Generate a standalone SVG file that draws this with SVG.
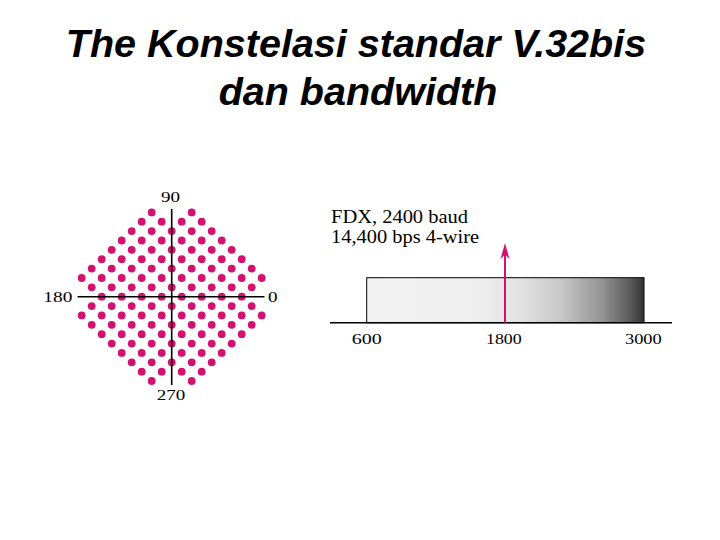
<svg xmlns="http://www.w3.org/2000/svg" width="720" height="540" viewBox="0 0 720 540">
<style>
.title{font-family:"Liberation Sans",Arial,sans-serif;font-weight:bold;font-style:italic;font-size:39.5px;fill:#000}
.lbl{font-family:"Liberation Serif","Times New Roman",serif;font-size:14.5px;fill:#000}
.big{font-family:"Liberation Serif","Times New Roman",serif;font-size:18.5px;fill:#000}
.d{fill:#d3126f}
.ax{stroke:#000;stroke-width:1.6;fill:none}
</style>
<defs>
<circle id="p" r="3.9" class="d"/>
<linearGradient id="bw" x1="0" y1="0" x2="1" y2="0">
<stop offset="0" stop-color="#f2f2f2"/>
<stop offset="0.4" stop-color="#eeeeee"/>
<stop offset="0.55" stop-color="#e2e2e2"/>
<stop offset="0.7" stop-color="#c8c8c8"/>
<stop offset="0.85" stop-color="#939393"/>
<stop offset="0.95" stop-color="#5a5a5a"/>
<stop offset="1" stop-color="#333333"/>
</linearGradient>
<marker id="ah" viewBox="0 0 16 10" refX="7" refY="5" markerWidth="16" markerHeight="10" markerUnits="userSpaceOnUse" orient="auto">
<path d="M16 5 L0 0.5 L4.5 5 L0 9.5 Z" fill="#d3126f"/>
</marker>
</defs>
<rect width="720" height="540" fill="#fff"/>
<g id="title">
<text class="title" x="356" y="57" text-anchor="middle">The Konstelasi standar V.32bis</text>
<text class="title" x="358" y="105" text-anchor="middle">dan bandwidth</text>
</g>
<g id="constellation">
<g id="dots" transform="translate(171.7 296.7)">
<use href="#p" x="-20" y="-84.3"/><use href="#p" x="20" y="-84.3"/>
<use href="#p" x="-30" y="-75"/><use href="#p" x="-10" y="-75"/><use href="#p" x="10" y="-75"/><use href="#p" x="30" y="-75"/>
<use href="#p" x="-40" y="-65.6"/><use href="#p" x="-20" y="-65.6"/><use href="#p" x="0" y="-65.6"/><use href="#p" x="20" y="-65.6"/><use href="#p" x="40" y="-65.6"/>
<use href="#p" x="-50" y="-56.2"/><use href="#p" x="-30" y="-56.2"/><use href="#p" x="-10" y="-56.2"/><use href="#p" x="10" y="-56.2"/><use href="#p" x="30" y="-56.2"/><use href="#p" x="50" y="-56.2"/>
<use href="#p" x="-60" y="-46.9"/><use href="#p" x="-40" y="-46.9"/><use href="#p" x="-20" y="-46.9"/><use href="#p" x="0" y="-46.9"/><use href="#p" x="20" y="-46.9"/><use href="#p" x="40" y="-46.9"/><use href="#p" x="60" y="-46.9"/>
<use href="#p" x="-70" y="-37.5"/><use href="#p" x="-50" y="-37.5"/><use href="#p" x="-30" y="-37.5"/><use href="#p" x="-10" y="-37.5"/><use href="#p" x="10" y="-37.5"/><use href="#p" x="30" y="-37.5"/><use href="#p" x="50" y="-37.5"/><use href="#p" x="70" y="-37.5"/>
<use href="#p" x="-80" y="-28.1"/><use href="#p" x="-60" y="-28.1"/><use href="#p" x="-40" y="-28.1"/><use href="#p" x="-20" y="-28.1"/><use href="#p" x="0" y="-28.1"/><use href="#p" x="20" y="-28.1"/><use href="#p" x="40" y="-28.1"/><use href="#p" x="60" y="-28.1"/><use href="#p" x="80" y="-28.1"/>
<use href="#p" x="-90" y="-18.7"/><use href="#p" x="-70" y="-18.7"/><use href="#p" x="-50" y="-18.7"/><use href="#p" x="-30" y="-18.7"/><use href="#p" x="-10" y="-18.7"/><use href="#p" x="10" y="-18.7"/><use href="#p" x="30" y="-18.7"/><use href="#p" x="50" y="-18.7"/><use href="#p" x="70" y="-18.7"/><use href="#p" x="90" y="-18.7"/>
<use href="#p" x="-80" y="-9.4"/><use href="#p" x="-60" y="-9.4"/><use href="#p" x="-40" y="-9.4"/><use href="#p" x="-20" y="-9.4"/><use href="#p" x="0" y="-9.4"/><use href="#p" x="20" y="-9.4"/><use href="#p" x="40" y="-9.4"/><use href="#p" x="60" y="-9.4"/><use href="#p" x="80" y="-9.4"/>
<use href="#p" x="-70" y="0"/><use href="#p" x="-50" y="0"/><use href="#p" x="-30" y="0"/><use href="#p" x="-10" y="0"/><use href="#p" x="10" y="0"/><use href="#p" x="30" y="0"/><use href="#p" x="50" y="0"/><use href="#p" x="70" y="0"/>
<use href="#p" x="-80" y="9.4"/><use href="#p" x="-60" y="9.4"/><use href="#p" x="-40" y="9.4"/><use href="#p" x="-20" y="9.4"/><use href="#p" x="0" y="9.4"/><use href="#p" x="20" y="9.4"/><use href="#p" x="40" y="9.4"/><use href="#p" x="60" y="9.4"/><use href="#p" x="80" y="9.4"/>
<use href="#p" x="-90" y="18.7"/><use href="#p" x="-70" y="18.7"/><use href="#p" x="-50" y="18.7"/><use href="#p" x="-30" y="18.7"/><use href="#p" x="-10" y="18.7"/><use href="#p" x="10" y="18.7"/><use href="#p" x="30" y="18.7"/><use href="#p" x="50" y="18.7"/><use href="#p" x="70" y="18.7"/><use href="#p" x="90" y="18.7"/>
<use href="#p" x="-80" y="28.1"/><use href="#p" x="-60" y="28.1"/><use href="#p" x="-40" y="28.1"/><use href="#p" x="-20" y="28.1"/><use href="#p" x="0" y="28.1"/><use href="#p" x="20" y="28.1"/><use href="#p" x="40" y="28.1"/><use href="#p" x="60" y="28.1"/><use href="#p" x="80" y="28.1"/>
<use href="#p" x="-70" y="37.5"/><use href="#p" x="-50" y="37.5"/><use href="#p" x="-30" y="37.5"/><use href="#p" x="-10" y="37.5"/><use href="#p" x="10" y="37.5"/><use href="#p" x="30" y="37.5"/><use href="#p" x="50" y="37.5"/><use href="#p" x="70" y="37.5"/>
<use href="#p" x="-60" y="46.9"/><use href="#p" x="-40" y="46.9"/><use href="#p" x="-20" y="46.9"/><use href="#p" x="0" y="46.9"/><use href="#p" x="20" y="46.9"/><use href="#p" x="40" y="46.9"/><use href="#p" x="60" y="46.9"/>
<use href="#p" x="-50" y="56.2"/><use href="#p" x="-30" y="56.2"/><use href="#p" x="-10" y="56.2"/><use href="#p" x="10" y="56.2"/><use href="#p" x="30" y="56.2"/><use href="#p" x="50" y="56.2"/>
<use href="#p" x="-40" y="65.6"/><use href="#p" x="-20" y="65.6"/><use href="#p" x="0" y="65.6"/><use href="#p" x="20" y="65.6"/><use href="#p" x="40" y="65.6"/>
<use href="#p" x="-30" y="75"/><use href="#p" x="-10" y="75"/><use href="#p" x="10" y="75"/><use href="#p" x="30" y="75"/>
<use href="#p" x="-20" y="84.3"/><use href="#p" x="20" y="84.3"/>
</g>
<g id="axes">
<line class="ax" x1="171.7" y1="209" x2="171.7" y2="385"/>
<line class="ax" x1="77.5" y1="296.7" x2="264.5" y2="296.7"/>
</g>
<text class="lbl" x="161" y="201.7" textLength="19" lengthAdjust="spacingAndGlyphs">90</text>
<text class="lbl" x="43.3" y="302.3" textLength="29" lengthAdjust="spacingAndGlyphs">180</text>
<text class="lbl" x="268" y="302.3" textLength="9.5" lengthAdjust="spacingAndGlyphs">0</text>
<text class="lbl" x="156.7" y="400" textLength="28.5" lengthAdjust="spacingAndGlyphs">270</text>
</g>
<g id="bandwidth">
<text class="big" x="331" y="223" textLength="137" lengthAdjust="spacingAndGlyphs">FDX, 2400 baud</text>
<text class="big" x="331" y="243" textLength="148" lengthAdjust="spacingAndGlyphs">14,400 bps 4-wire</text>
<rect id="band" x="366.7" y="277.7" width="277.3" height="45" fill="url(#bw)" stroke="#000" stroke-width="1"/>
<line class="ax" x1="330" y1="322.7" x2="672" y2="322.7" stroke-width="1.4"/>
<text class="lbl" x="351.7" y="344" textLength="30" lengthAdjust="spacingAndGlyphs">600</text>
<text class="lbl" x="486" y="344" textLength="35.7" lengthAdjust="spacingAndGlyphs">1800</text>
<text class="lbl" x="625" y="344" textLength="36.7" lengthAdjust="spacingAndGlyphs">3000</text>
</g>
<g id="connectors">
<line x1="505" y1="322.7" x2="505" y2="252" stroke="#d3126f" stroke-width="2" marker-end="url(#ah)"/>
</g>
</svg>
